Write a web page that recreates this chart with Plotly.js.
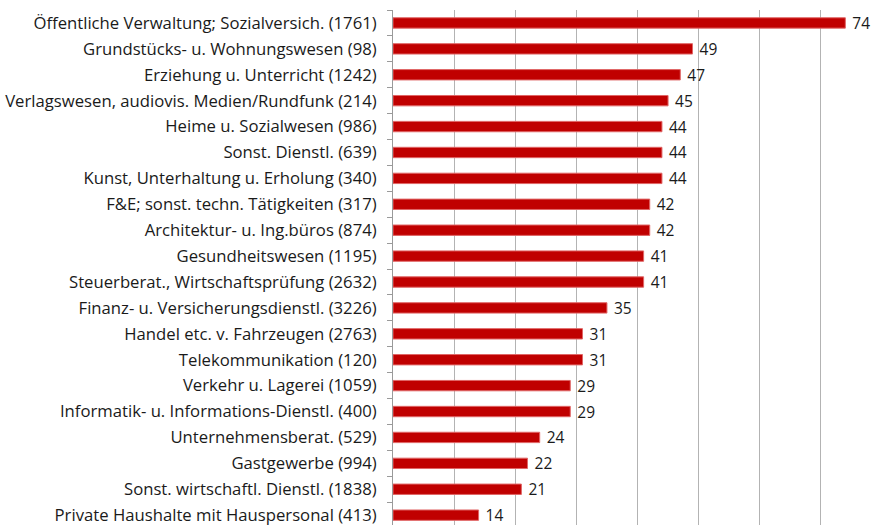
<!DOCTYPE html>
<html><head><meta charset="utf-8">
<script src="https://cdn.plot.ly/plotly-3.0.1.min.js"></script>
<style>html,body{margin:0;padding:0;background:#fff;}#chart{width:892px;height:525px;}</style>
</head><body><div id="chart"></div>
<script>
const categories = [
  "Öffentliche Verwaltung; Sozialversich. (1761)",
  "Grundstücks- u. Wohnungswesen (98)",
  "Erziehung u. Unterricht (1242)",
  "Verlagswesen, audiovis. Medien/Rundfunk (214)",
  "Heime u. Sozialwesen (986)",
  "Sonst. Dienstl. (639)",
  "Kunst, Unterhaltung u. Erholung (340)",
  "F&E; sonst. techn. Tätigkeiten (317)",
  "Architektur- u. Ing.büros (874)",
  "Gesundheitswesen (1195)",
  "Steuerberat., Wirtschaftsprüfung (2632)",
  "Finanz- u. Versicherungsdienstl. (3226)",
  "Handel etc. v. Fahrzeugen (2763)",
  "Telekommunikation (120)",
  "Verkehr u. Lagerei (1059)",
  "Informatik- u. Informations-Dienstl. (400)",
  "Unternehmensberat. (529)",
  "Gastgewerbe (994)",
  "Sonst. wirtschaftl. Dienstl. (1838)",
  "Private Haushalte mit Hauspersonal (413)"
];
const values = [74, 49, 47, 45, 44, 44, 44, 42, 42, 41, 41, 35, 31, 31, 29, 29, 24, 22, 21, 14];
const xTicks = [0, 10, 20, 30, 40, 50, 60, 70, 80];

const FONT = '"Open Sans", Lato, sans-serif';
const trace = {
  type: 'bar',
  orientation: 'h',
  y: categories,
  x: values,
  text: values.map(v => '\u00a0' + v),
  textposition: 'outside',
  constraintext: 'none',
  cliponaxis: false,
  textfont: {family: FONT, size: 15.5, color: '#1a1a1a'},
  outsidetextfont: {family: FONT, size: 15.5, color: '#1a1a1a'},
  marker: {color: '#C00000', line: {color: '#E06666', width: 1}},
  hoverinfo: 'none'
};
const layout = {
  width: 892, height: 525,
  margin: {l: 393, r: 10, t: 10, b: 0},
  paper_bgcolor: '#fff', plot_bgcolor: '#fff',
  bargap: 0.6,
  showlegend: false,
  font: {family: FONT, size: 16, color: '#1a1a1a'},
  xaxis: {
    range: [0, 80], tickvals: xTicks, showticklabels: false,
    showgrid: true, gridcolor: '#b3b3b3', gridwidth: 1,
    zeroline: false, showline: false, fixedrange: true
  },
  yaxis: {
    type: 'category', range: [19.38, -0.5],
    showline: true, linecolor: '#9a9a9a', linewidth: 1,
    ticks: 'outside', tickson: 'boundaries', ticklen: 5, tickcolor: '#9a9a9a',
    ticklabelstandoff: 12,
    tickfont: {family: FONT, size: 16.7, color: '#1a1a1a'},
    showgrid: false, zeroline: false, fixedrange: true
  }
};
Plotly.newPlot('chart', [trace], layout, {displayModeBar: false, staticPlot: true});
</script></body></html>
